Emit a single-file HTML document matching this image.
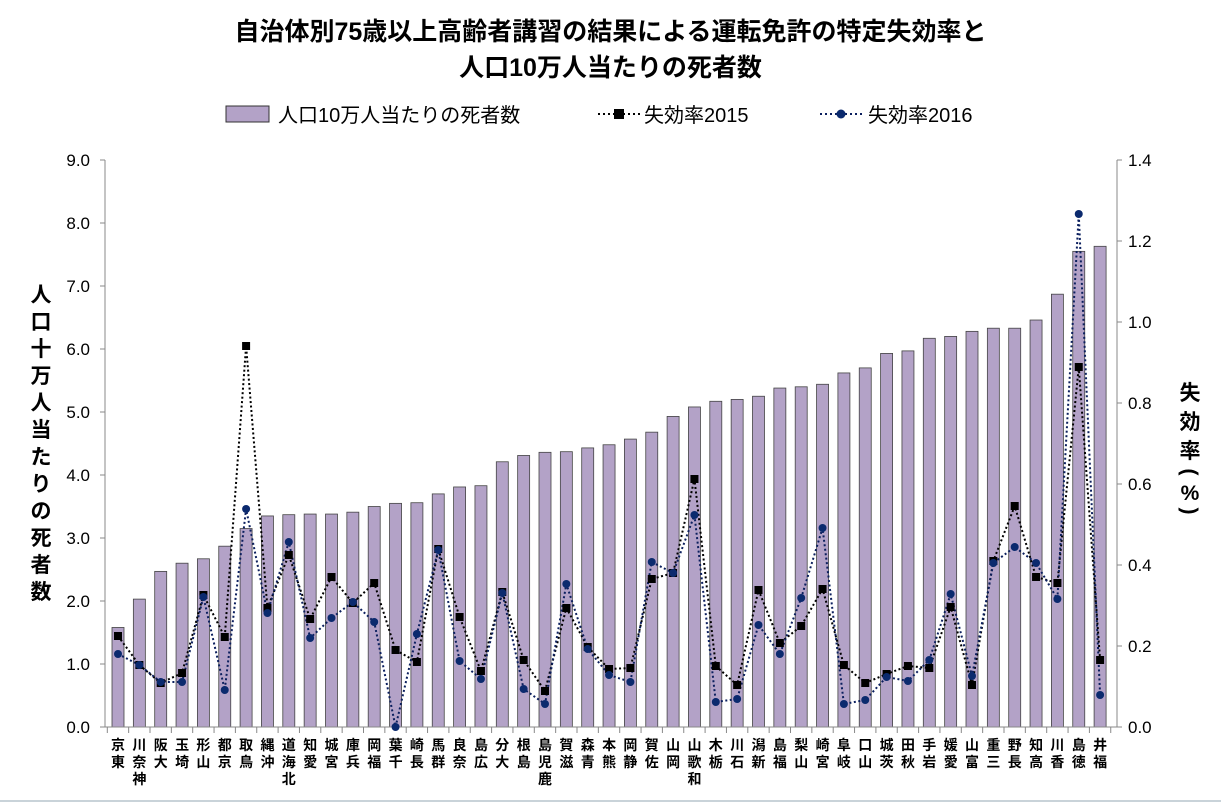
<!DOCTYPE html>
<html><head><meta charset="utf-8"><style>
body{margin:0;background:#fff;width:1221px;height:804px;overflow:hidden;position:relative;font-family:"Liberation Sans","Noto Sans CJK JP",sans-serif}
.t{position:absolute;font-weight:bold;color:#000;text-align:center}
</style></head><body>
<div class="t" style="left:0;width:1221px;top:14px;font-size:25px;line-height:36px">自治体別75歳以上高齢者講習の結果による運転免許の特定失効率と<br>人口10万人当たりの死者数</div>
<svg id="s" width="1221" height="804" style="position:absolute;left:0;top:0" xmlns="http://www.w3.org/2000/svg" font-family="Liberation Sans, Noto Sans CJK JP, sans-serif">
<g font-size="20" fill="#000">
<rect x="226" y="106" width="43" height="16" fill="#b3a2c7" stroke="#333" stroke-width="1"/>
<text x="278" y="122">人口10万人当たりの死者数</text>
<line x1="598" y1="114" x2="640" y2="114" stroke="#000" stroke-width="2" stroke-dasharray="2,3"/>
<rect x="614" y="109" width="10" height="10" fill="#000"/>
<text x="644" y="122">失効率2015</text>
<line x1="820" y1="114" x2="862" y2="114" stroke="#0b1f5e" stroke-width="2" stroke-dasharray="2,3"/>
<circle cx="841" cy="114" r="4.5" fill="#0b2a6e"/>
<text x="868" y="122">失効率2016</text>
</g>
<g font-size="17" text-anchor="end">
<text x="90" y="166">9.0</text><text x="90" y="229">8.0</text><text x="90" y="292">7.0</text><text x="90" y="355">6.0</text><text x="90" y="418">5.0</text><text x="90" y="481">4.0</text><text x="90" y="544">3.0</text><text x="90" y="607">2.0</text><text x="90" y="670">1.0</text><text x="90" y="733">0.0</text>
</g>
<g font-size="17">
<text x="1128" y="166">1.4</text><text x="1128" y="247">1.2</text><text x="1128" y="328">1.0</text><text x="1128" y="409">0.8</text><text x="1128" y="490">0.6</text><text x="1128" y="571">0.4</text><text x="1128" y="652">0.2</text><text x="1128" y="733">0.0</text>
</g>
<g font-size="21" font-weight="bold" text-anchor="middle">
<text x="1190" y="400">失</text><text x="1190" y="429">効</text><text x="1190" y="458">率</text>
<text x="1190" y="500">%</text>
<text transform="translate(1190,472) rotate(90)" y="7">(</text>
<text transform="translate(1190,511) rotate(90)" y="7">)</text>
</g>
<g id="plot"></g>
<g font-size="14" font-weight="bold" text-anchor="middle">
<text x="118" y="750">京</text><text x="118" y="767">東</text>
<text x="139.4" y="750">川</text><text x="139.4" y="767">奈</text><text x="139.4" y="784">神</text>
<text x="160.7" y="750">阪</text><text x="160.7" y="767">大</text>
<text x="182.1" y="750">玉</text><text x="182.1" y="767">埼</text>
<text x="203.4" y="750">形</text><text x="203.4" y="767">山</text>
<text x="224.8" y="750">都</text><text x="224.8" y="767">京</text>
<text x="246.1" y="750">取</text><text x="246.1" y="767">鳥</text>
<text x="267.5" y="750">縄</text><text x="267.5" y="767">沖</text>
<text x="288.8" y="750">道</text><text x="288.8" y="767">海</text><text x="288.8" y="784">北</text>
<text x="310.2" y="750">知</text><text x="310.2" y="767">愛</text>
<text x="331.5" y="750">城</text><text x="331.5" y="767">宮</text>
<text x="352.9" y="750">庫</text><text x="352.9" y="767">兵</text>
<text x="374.2" y="750">岡</text><text x="374.2" y="767">福</text>
<text x="395.6" y="750">葉</text><text x="395.6" y="767">千</text>
<text x="416.9" y="750">崎</text><text x="416.9" y="767">長</text>
<text x="438.3" y="750">馬</text><text x="438.3" y="767">群</text>
<text x="459.6" y="750">良</text><text x="459.6" y="767">奈</text>
<text x="481" y="750">島</text><text x="481" y="767">広</text>
<text x="502.3" y="750">分</text><text x="502.3" y="767">大</text>
<text x="523.7" y="750">根</text><text x="523.7" y="767">島</text>
<text x="545" y="750">島</text><text x="545" y="767">児</text><text x="545" y="784">鹿</text>
<text x="566.4" y="750">賀</text><text x="566.4" y="767">滋</text>
<text x="587.7" y="750">森</text><text x="587.7" y="767">青</text>
<text x="609.1" y="750">本</text><text x="609.1" y="767">熊</text>
<text x="630.4" y="750">岡</text><text x="630.4" y="767">静</text>
<text x="651.8" y="750">賀</text><text x="651.8" y="767">佐</text>
<text x="673.1" y="750">山</text><text x="673.1" y="767">岡</text>
<text x="694.5" y="750">山</text><text x="694.5" y="767">歌</text><text x="694.5" y="784">和</text>
<text x="715.8" y="750">木</text><text x="715.8" y="767">栃</text>
<text x="737.2" y="750">川</text><text x="737.2" y="767">石</text>
<text x="758.5" y="750">潟</text><text x="758.5" y="767">新</text>
<text x="779.9" y="750">島</text><text x="779.9" y="767">福</text>
<text x="801.2" y="750">梨</text><text x="801.2" y="767">山</text>
<text x="822.6" y="750">崎</text><text x="822.6" y="767">宮</text>
<text x="843.9" y="750">阜</text><text x="843.9" y="767">岐</text>
<text x="865.3" y="750">口</text><text x="865.3" y="767">山</text>
<text x="886.6" y="750">城</text><text x="886.6" y="767">茨</text>
<text x="908" y="750">田</text><text x="908" y="767">秋</text>
<text x="929.3" y="750">手</text><text x="929.3" y="767">岩</text>
<text x="950.7" y="750">媛</text><text x="950.7" y="767">愛</text>
<text x="972" y="750">山</text><text x="972" y="767">富</text>
<text x="993.4" y="750">重</text><text x="993.4" y="767">三</text>
<text x="1014.7" y="750">野</text><text x="1014.7" y="767">長</text>
<text x="1036.1" y="750">知</text><text x="1036.1" y="767">高</text>
<text x="1057.4" y="750">川</text><text x="1057.4" y="767">香</text>
<text x="1078.8" y="750">島</text><text x="1078.8" y="767">徳</text>
<text x="1100.1" y="750">井</text><text x="1100.1" y="767">福</text>
</g>
</svg>
<div class="t" style="left:28px;top:282px;width:26px;font-size:21px;line-height:27px">人<br>口<br>十<br>万<br>人<br>当<br>た<br>り<br>の<br>死<br>者<br>数</div>
<div style="position:absolute;left:0;top:800px;width:1221px;height:2px;background:#c9d3d9"></div>
<script>
var B=[1.58,2.03,2.47,2.60,2.67,2.87,3.15,3.35,3.37,3.38,3.38,3.41,3.50,3.55,3.56,3.70,3.81,3.83,4.21,4.31,4.36,4.37,4.43,4.48,4.57,4.68,4.93,5.08,5.17,5.20,5.25,5.38,5.40,5.44,5.62,5.70,5.93,5.97,6.17,6.20,6.28,6.33,6.33,6.46,6.87,7.55,7.63];
var A=[636,665,683,673,595,637,346,608,555,619,577,603,583,650,662,549,617,671,592,660,691,608,647,669,668,579,573,479,666,685,590,643,626,589,665,683,674,666,668,607,685,561,506,577,583,367,660];
var C=[654,665,682,682,597,690,509,613,542,638,618,602,622,727,634,550,661,679,593,689,704,584,649,675,682,562,573,515,702,699,625,654,598,528,704,700,677,681,660,594,676,563,547,563,599,214,695];
var h='',X=function(i){return 118+i*21.35};
for(var i=0;i<47;i++){var x=X(i),t=727-B[i]*63;h+='<rect x="'+(x-6)+'" y="'+t+'" width="12" height="'+(727-t)+'" fill="#b3a2c7" stroke="#444" stroke-width="0.8"/>';}
h+='<line x1="105" y1="160" x2="105" y2="727" stroke="#888"/><line x1="1117" y1="160" x2="1117" y2="727" stroke="#888"/><line x1="105" y1="727" x2="1117" y2="727" stroke="#888"/>';
for(var k=0;k<10;k++){var y=160+k*63;h+='<line x1="100" y1="'+y+'" x2="105" y2="'+y+'" stroke="#888"/>';}
for(var k=0;k<8;k++){var y=160+k*81;h+='<line x1="1117" y1="'+y+'" x2="1122" y2="'+y+'" stroke="#888"/>';}
for(var i=0;i<=47;i++){var x=107.3+i*21.35;h+='<line x1="'+x+'" y1="727" x2="'+x+'" y2="733" stroke="#888"/>';}
var pa='',pc='';for(var i=0;i<47;i++){pa+=(i?'L':'M')+X(i)+' '+A[i];pc+=(i?'L':'M')+X(i)+' '+C[i];}
h+='<path d="'+pa+'" fill="none" stroke="#000" stroke-width="2" stroke-dasharray="2,2.5"/>';
h+='<path d="'+pc+'" fill="none" stroke="#0b1f5e" stroke-width="2" stroke-dasharray="2,2.5"/>';
for(var i=0;i<47;i++){h+='<rect x="'+(X(i)-4)+'" y="'+(A[i]-4)+'" width="8" height="8" fill="#000"/>';}
for(var i=0;i<47;i++){h+='<circle cx="'+X(i)+'" cy="'+C[i]+'" r="4" fill="#0b2a6e"/>';}
document.getElementById('plot').innerHTML=h;
</script>
</body></html>
